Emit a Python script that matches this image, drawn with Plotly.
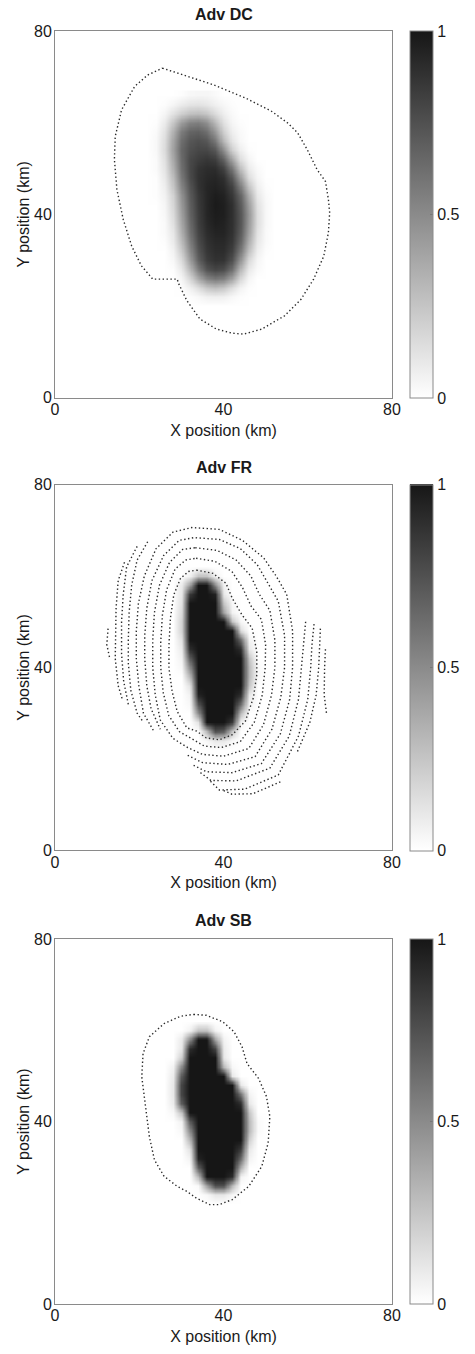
import plotly.graph_objects as go

# ---------------- data ----------------
panel_titles = ["Adv DC", "Adv FR", "Adv SB"]
axis_ticks = [0, 40, 80]
cbar_ticks = [0, 0.5, 1]
cbar_labels = ["0", "0.5", "1"]

# Panel 1 (DC): grid x = 22..52 step 2, rows listed top (y=66) to bottom (y=20), values in %
dc_x = [22, 24, 26, 28, 30, 32, 34, 36, 38, 40, 42, 44, 46, 48, 50, 52]
dc_y = [66, 64, 62, 60, 58, 56, 54, 52, 50, 48, 46, 44, 42, 40, 38, 36, 34, 32, 30, 28, 26, 24, 22, 20]
dc_z = [
    [0, 0, 0, 0, 1, 3, 4, 4, 2, 0, 0, 0, 0, 0, 0, 0],
    [0, 0, 1, 4, 8, 11, 12, 10, 6, 3, 1, 0, 0, 0, 0, 0],
    [0, 0, 4, 12, 20, 26, 28, 24, 15, 7, 2, 0, 0, 0, 0, 0],
    [0, 1, 8, 24, 42, 53, 55, 48, 30, 13, 4, 1, 0, 0, 0, 0],
    [0, 2, 12, 33, 56, 66, 68, 62, 44, 20, 7, 2, 0, 0, 0, 0],
    [0, 3, 14, 38, 62, 72, 75, 72, 58, 30, 11, 3, 0, 0, 0, 0],
    [0, 3, 15, 40, 65, 75, 79, 79, 72, 48, 20, 7, 1, 0, 0, 0],
    [0, 2, 13, 37, 63, 78, 83, 86, 83, 67, 39, 14, 4, 0, 0, 0],
    [0, 2, 11, 33, 61, 78, 87, 90, 90, 81, 58, 27, 8, 2, 0, 0],
    [0, 1, 9, 28, 57, 77, 88, 92, 93, 89, 72, 42, 14, 4, 0, 0],
    [0, 1, 7, 24, 52, 73, 87, 93, 95, 92, 81, 56, 25, 7, 1, 0],
    [0, 1, 5, 19, 46, 70, 85, 93, 97, 95, 86, 67, 35, 10, 2, 0],
    [0, 0, 4, 17, 43, 68, 84, 93, 98, 96, 89, 71, 41, 13, 3, 0],
    [0, 0, 3, 15, 40, 66, 83, 93, 97, 96, 89, 73, 44, 14, 3, 0],
    [0, 0, 2, 13, 37, 63, 82, 92, 96, 95, 89, 73, 43, 14, 3, 0],
    [0, 0, 2, 10, 33, 60, 80, 90, 94, 94, 88, 71, 40, 12, 2, 0],
    [0, 0, 1, 8, 28, 55, 77, 88, 92, 92, 86, 66, 34, 10, 2, 0],
    [0, 0, 0, 5, 22, 49, 73, 86, 90, 90, 82, 58, 26, 7, 1, 0],
    [0, 0, 0, 3, 15, 41, 68, 83, 88, 87, 75, 46, 16, 4, 0, 0],
    [0, 0, 0, 1, 9, 30, 56, 74, 80, 77, 62, 31, 9, 2, 0, 0],
    [0, 0, 0, 0, 4, 17, 37, 53, 59, 55, 40, 17, 4, 0, 0, 0],
    [0, 0, 0, 0, 1, 6, 14, 24, 28, 24, 14, 5, 1, 0, 0, 0],
    [0, 0, 0, 0, 0, 1, 3, 6, 7, 6, 3, 1, 0, 0, 0, 0],
    [0, 0, 0, 0, 0, 0, 0, 0, 0, 0, 0, 0, 0, 0, 0, 0],
]

# Panels 2 and 3: grid x = 26..50 step 2, rows top (y=62) to bottom (y=22), values in %
blob_x = [26, 28, 30, 32, 34, 36, 38, 40, 42, 44, 46, 48, 50]
blob_y = [62, 60, 58, 56, 54, 52, 50, 48, 46, 44, 42, 40, 38, 36, 34, 32, 30, 28, 26, 24, 22]
fr_z = [
    [0, 0, 0, 0, 0, 0, 0, 0, 0, 0, 0, 0, 0],
    [0, 0, 0, 5, 25, 25, 5, 0, 0, 0, 0, 0, 0],
    [0, 0, 8, 40, 100, 100, 50, 5, 0, 0, 0, 0, 0],
    [0, 0, 10, 85, 100, 100, 95, 10, 0, 0, 0, 0, 0],
    [0, 0, 12, 100, 100, 100, 100, 25, 3, 0, 0, 0, 0],
    [0, 0, 15, 100, 100, 100, 100, 40, 5, 0, 0, 0, 0],
    [0, 0, 18, 100, 100, 100, 100, 100, 25, 3, 0, 0, 0],
    [0, 0, 18, 100, 100, 100, 100, 100, 100, 15, 0, 0, 0],
    [0, 0, 12, 100, 100, 100, 100, 100, 100, 65, 5, 0, 0],
    [0, 0, 8, 90, 100, 100, 100, 100, 100, 90, 10, 0, 0],
    [0, 0, 5, 70, 100, 100, 100, 100, 100, 100, 25, 0, 0],
    [0, 0, 3, 50, 100, 100, 100, 100, 100, 100, 30, 2, 0],
    [0, 0, 0, 30, 100, 100, 100, 100, 100, 100, 30, 2, 0],
    [0, 0, 0, 12, 100, 100, 100, 100, 100, 100, 25, 0, 0],
    [0, 0, 0, 5, 95, 100, 100, 100, 100, 90, 10, 0, 0],
    [0, 0, 0, 3, 75, 100, 100, 100, 100, 65, 5, 0, 0],
    [0, 0, 0, 0, 50, 100, 100, 100, 100, 30, 0, 0, 0],
    [0, 0, 0, 0, 12, 100, 100, 100, 85, 5, 0, 0, 0],
    [0, 0, 0, 0, 0, 30, 75, 70, 25, 0, 0, 0, 0],
    [0, 0, 0, 0, 0, 3, 10, 10, 3, 0, 0, 0, 0],
    [0, 0, 0, 0, 0, 0, 0, 0, 0, 0, 0, 0, 0],
]
sb_z = [
    [0, 0, 0, 0, 0, 0, 0, 0, 0, 0, 0, 0, 0],
    [0, 0, 0, 5, 25, 25, 5, 0, 0, 0, 0, 0, 0],
    [0, 0, 8, 50, 100, 100, 40, 5, 0, 0, 0, 0, 0],
    [0, 0, 10, 90, 100, 100, 80, 8, 0, 0, 0, 0, 0],
    [0, 0, 20, 100, 100, 100, 100, 10, 0, 0, 0, 0, 0],
    [0, 5, 50, 100, 100, 100, 100, 30, 3, 0, 0, 0, 0],
    [0, 8, 70, 100, 100, 100, 100, 100, 10, 0, 0, 0, 0],
    [0, 10, 80, 100, 100, 100, 100, 100, 100, 10, 0, 0, 0],
    [0, 10, 80, 100, 100, 100, 100, 100, 100, 60, 5, 0, 0],
    [0, 8, 70, 100, 100, 100, 100, 100, 100, 90, 10, 0, 0],
    [0, 3, 25, 100, 100, 100, 100, 100, 100, 100, 25, 0, 0],
    [0, 0, 5, 70, 100, 100, 100, 100, 100, 100, 30, 2, 0],
    [0, 0, 3, 50, 100, 100, 100, 100, 100, 100, 30, 2, 0],
    [0, 0, 0, 30, 100, 100, 100, 100, 100, 100, 20, 0, 0],
    [0, 0, 0, 12, 100, 100, 100, 100, 100, 85, 10, 0, 0],
    [0, 0, 0, 5, 95, 100, 100, 100, 100, 65, 5, 0, 0],
    [0, 0, 0, 0, 70, 100, 100, 100, 100, 35, 0, 0, 0],
    [0, 0, 0, 0, 30, 100, 100, 100, 90, 5, 0, 0, 0],
    [0, 0, 0, 0, 2, 40, 75, 75, 30, 0, 0, 0, 0],
    [0, 0, 0, 0, 0, 3, 10, 10, 3, 0, 0, 0, 0],
    [0, 0, 0, 0, 0, 0, 0, 0, 0, 0, 0, 0, 0],
]

# Dotted contour lines (x km, y km)
dc_contour = [
    (25.5, 71.9), (30.5, 70.4), (37.5, 68.3), (45.2, 65.4), (51.4, 62.5), (55.3, 59.9),
    (57.6, 57.8), (59.9, 54.1), (62.2, 49.8), (64.2, 47.2), (64.9, 43.3), (65.2, 40.4),
    (64.9, 36.0), (63.8, 30.9), (61.4, 25.9), (58.4, 21.5), (54.5, 17.9), (49.1, 15.0),
    (44.8, 13.9), (42.1, 14.1), (38.3, 15.0), (34.4, 17.2), (31.3, 21.2), (29.4, 24.8),
    (29.0, 25.9), (23.2, 25.9), (20.5, 28.8), (18.2, 33.1), (16.2, 38.9), (14.7, 45.4),
    (14.1, 52.0), (14.3, 57.0), (15.8, 62.8), (18.9, 67.9), (22.0, 70.4), (25.5, 71.9),
]

sb_contour = [
    (32.9, 63.5), (35.9, 63.3), (39.8, 61.9), (42.5, 59.7), (44.4, 56.4), (45.6, 52.7),
    (48.3, 49.5), (50.2, 45.5), (51.0, 41.1), (50.6, 35.3), (49.1, 30.2), (46.0, 25.8),
    (42.1, 22.9), (39.0, 21.8), (36.7, 21.8), (33.6, 23.2), (31.3, 24.7), (29.0, 25.8),
    (25.9, 28.0), (23.6, 31.6), (22.4, 36.7), (21.6, 42.6), (20.6, 49.8), (20.9, 54.9),
    (22.4, 58.6), (25.9, 61.5), (29.8, 63.1), (32.9, 63.5),
]

fr_contours = [
    [(33.6, 61.3), (37.5, 60.6), (40.6, 58.4), (42.1, 55.1), (44.4, 51.5), (46.8, 48.6),
     (47.9, 43.5), (47.9, 38.4), (47.1, 33.4), (45.2, 28.3), (42.1, 25.3), (39.0, 24.2),
     (35.9, 24.6), (33.6, 26.1), (31.3, 26.8), (29.0, 30.4), (27.8, 34.8), (27.05, 39.9),
     (27.05, 45.0), (27.4, 50.8), (28.2, 55.9), (29.8, 59.5), (31.7, 61.0), (33.6, 61.3)],
    [(33.5, 63.9), (38.0, 63.2), (42.0, 61.0), (44.5, 57.5), (46.5, 53.5), (49.0, 50.5),
     (50.0, 45.0), (49.9, 40.0), (49.2, 34.0), (47.3, 28.0), (44.0, 23.8), (39.5, 22.5),
     (35.5, 22.8), (32.5, 24.4), (29.5, 26.0), (27.0, 29.5), (25.7, 34.5), (25.1, 40.0),
     (25.1, 45.5), (25.5, 51.5), (26.5, 57.0), (28.5, 61.5), (31.0, 63.5), (33.5, 63.9)],
    [(33.3, 66.2), (38.5, 65.6), (43.0, 63.5), (46.5, 60.0), (48.5, 56.0), (51.0, 52.5),
     (52.2, 46.0), (52.2, 40.0), (51.4, 34.0), (49.5, 27.5), (46.0, 22.3), (40.0, 20.6),
     (35.0, 21.0), (31.5, 22.5), (28.0, 24.5), (25.0, 28.5), (23.8, 34.0), (23.2, 40.0),
     (23.2, 46.0), (23.6, 52.0), (24.8, 58.0), (27.2, 63.0), (30.3, 65.8), (33.3, 66.2)],
    [(31.5, 20.8), (35.0, 19.2), (41.0, 18.8), (47.5, 20.5), (51.5, 26.5), (53.6, 33.5),
     (54.5, 40.0), (54.5, 47.0), (53.0, 54.5), (50.5, 58.5), (48.0, 62.5), (44.0, 66.0),
     (39.0, 68.0), (33.0, 68.4), (29.5, 67.8), (25.8, 64.5), (23.0, 59.0), (21.8, 53.0),
     (21.3, 47.0), (21.3, 42.0), (21.8, 36.0), (22.8, 31.0), (25.0, 26.5)],
    [(32.9, 18.6), (36.0, 17.2), (42.0, 17.0), (49.0, 19.0), (53.5, 25.5), (55.7, 33.0),
     (56.4, 40.0), (56.4, 48.0), (55.0, 56.0), (52.5, 60.0), (49.5, 64.0), (44.5, 67.8),
     (39.0, 70.2), (32.5, 70.6), (28.0, 69.6), (24.0, 66.0), (21.2, 60.0), (19.8, 54.0),
     (19.3, 48.0), (19.3, 42.0), (19.9, 36.0), (21.0, 30.0), (23.5, 26.0)],
    [(22.0, 67.5), (19.5, 63.5), (18.2, 58.0), (17.6, 52.0), (17.4, 46.0), (17.4, 41.0),
     (18.0, 35.0), (19.5, 30.0), (21.0, 28.0)],
    [(59.5, 50.0), (59.0, 45.0), (58.4, 40.0), (57.8, 33.0), (55.6, 25.0), (51.0, 18.0),
     (43.0, 15.2), (37.0, 15.3), (34.4, 17.1)],
    [(19.5, 66.5), (17.0, 62.0), (16.2, 56.0), (15.8, 50.0), (15.8, 43.0), (16.3, 37.0),
     (17.5, 31.5)],
    [(61.5, 49.5), (61.0, 45.0), (60.7, 40.0), (60.0, 33.0), (57.8, 25.0), (53.0, 16.5),
     (45.0, 13.4), (39.0, 13.2), (36.7, 15.3)],
    [(16.5, 63.0), (15.0, 59.0), (14.5, 53.0), (14.3, 47.0), (14.3, 42.0), (15.0, 36.0),
     (16.0, 33.0)],
    [(63.0, 48.5), (62.8, 44.0), (62.6, 40.0), (62.0, 34.0), (60.5, 28.0), (57.5, 21.5)],
    [(53.5, 15.0), (47.0, 12.4), (42.0, 12.3), (40.0, 13.1)],
    [(12.6, 48.5), (12.3, 45.0), (13.0, 42.0)],
    [(64.2, 44.0), (64.0, 40.0), (63.9, 34.0), (64.5, 29.6)],
]

# ---------------- figure ----------------
W, H = 475, 1354
M_L, M_R, M_T, M_B = 55, 75, 31, 46
PH = H - M_T - M_B


def py2paper(py):
    return (H - M_B - py) / PH


panel_px = [(31, 399), (486, 853), (942, 1308)]
title_px = [14, 469, 923]

FONT = "Liberation Sans, Arial, Helvetica, sans-serif"
AXIS_GRAY = "#8a8a8a"
TEXT = "#1a1a1a"
FS = 16
colorscale = [[0, "#ffffff"], [1, "#161616"]]
dot_line = dict(color="#2a2a2a", width=1.4, dash="1.4px,2.5px")

fig = go.Figure()

fields = [
    (dc_x, dc_y, dc_z),
    (blob_x, blob_y, fr_z),
    (blob_x, blob_y, sb_z),
]


def split_xy(segments):
    xs, ys = [], []
    for seg in segments:
        for (a, b) in seg:
            xs.append(a)
            ys.append(b)
        xs.append(None)
        ys.append(None)
    return xs, ys


contour_sets = [[dc_contour], fr_contours, [sb_contour]]

for i in range(3):
    gx, gy, gz = fields[i]
    ax = "" if i == 0 else str(i + 1)
    top, bot = panel_px[i]
    ycen = py2paper((top + bot) / 2)
    ln = (bot - top) / PH
    fig.add_trace(go.Heatmap(
        x=gx, y=gy[::-1], z=[[v / 100 for v in row] for row in gz[::-1]],
        zmin=0, zmax=1, colorscale=colorscale, zsmooth="fast",
        xaxis="x" + ax, yaxis="y" + ax, hoverinfo="skip",
        colorbar=dict(
            x=(418 - M_L) / (W - M_L - M_R), xanchor="left", xpad=0,
            y=ycen, yanchor="middle", ypad=0, len=ln, lenmode="fraction",
            thickness=23, thicknessmode="pixels",
            outlinecolor=AXIS_GRAY, outlinewidth=1,
            tickvals=cbar_ticks, ticktext=cbar_labels,
            ticks="inside", ticklen=3, tickcolor="#777777",
            tickfont=dict(family=FONT, size=FS, color=TEXT),
        ),
    ))
    cx, cy = split_xy(contour_sets[i])
    fig.add_trace(go.Scatter(
        x=cx, y=cy, mode="lines", line=dot_line, connectgaps=False,
        xaxis="x" + ax, yaxis="y" + ax, hoverinfo="skip", showlegend=False,
    ))

layout_axes = {}
for i in range(3):
    ax = "" if i == 0 else str(i + 1)
    top, bot = panel_px[i]
    dom = [py2paper(bot), py2paper(top)]
    common = dict(
        range=[0, 80], tickvals=axis_ticks, ticktext=[str(t) for t in axis_ticks],
        showline=True, linecolor=AXIS_GRAY, linewidth=1, mirror=True,
        showgrid=False, zeroline=False, ticks="",
        tickfont=dict(family=FONT, size=FS, color=TEXT),
        fixedrange=True,
    )
    layout_axes["xaxis" + ax] = dict(
        common, domain=[0, 1], anchor="y" + ax, ticklabelstandoff=-3,
        title=dict(text="X position (km)", font=dict(family=FONT, size=FS, color=TEXT), standoff=7),
    )
    layout_axes["yaxis" + ax] = dict(
        common, domain=dom, anchor="x" + ax, ticklabelstandoff=-1,
        title=dict(text="Y position (km)", font=dict(family=FONT, size=FS, color=TEXT), standoff=0),
    )

annotations = []
for i in range(3):
    annotations.append(dict(
        text="<b>%s</b>" % panel_titles[i], x=0.5, xref="paper",
        y=py2paper(title_px[i]), yref="paper", yanchor="middle", xanchor="center",
        showarrow=False, font=dict(family=FONT, size=FS, color=TEXT),
    ))

fig.update_layout(
    width=W, height=H,
    margin=dict(l=M_L, r=M_R, t=M_T, b=M_B),
    paper_bgcolor="white", plot_bgcolor="white",
    showlegend=False, annotations=annotations,
    **layout_axes,
)

fig.write_html(
    "out.html",
    config={"displayModeBar": False},
    post_script="document.body.style.margin='0';document.body.style.overflow='hidden';",
)
